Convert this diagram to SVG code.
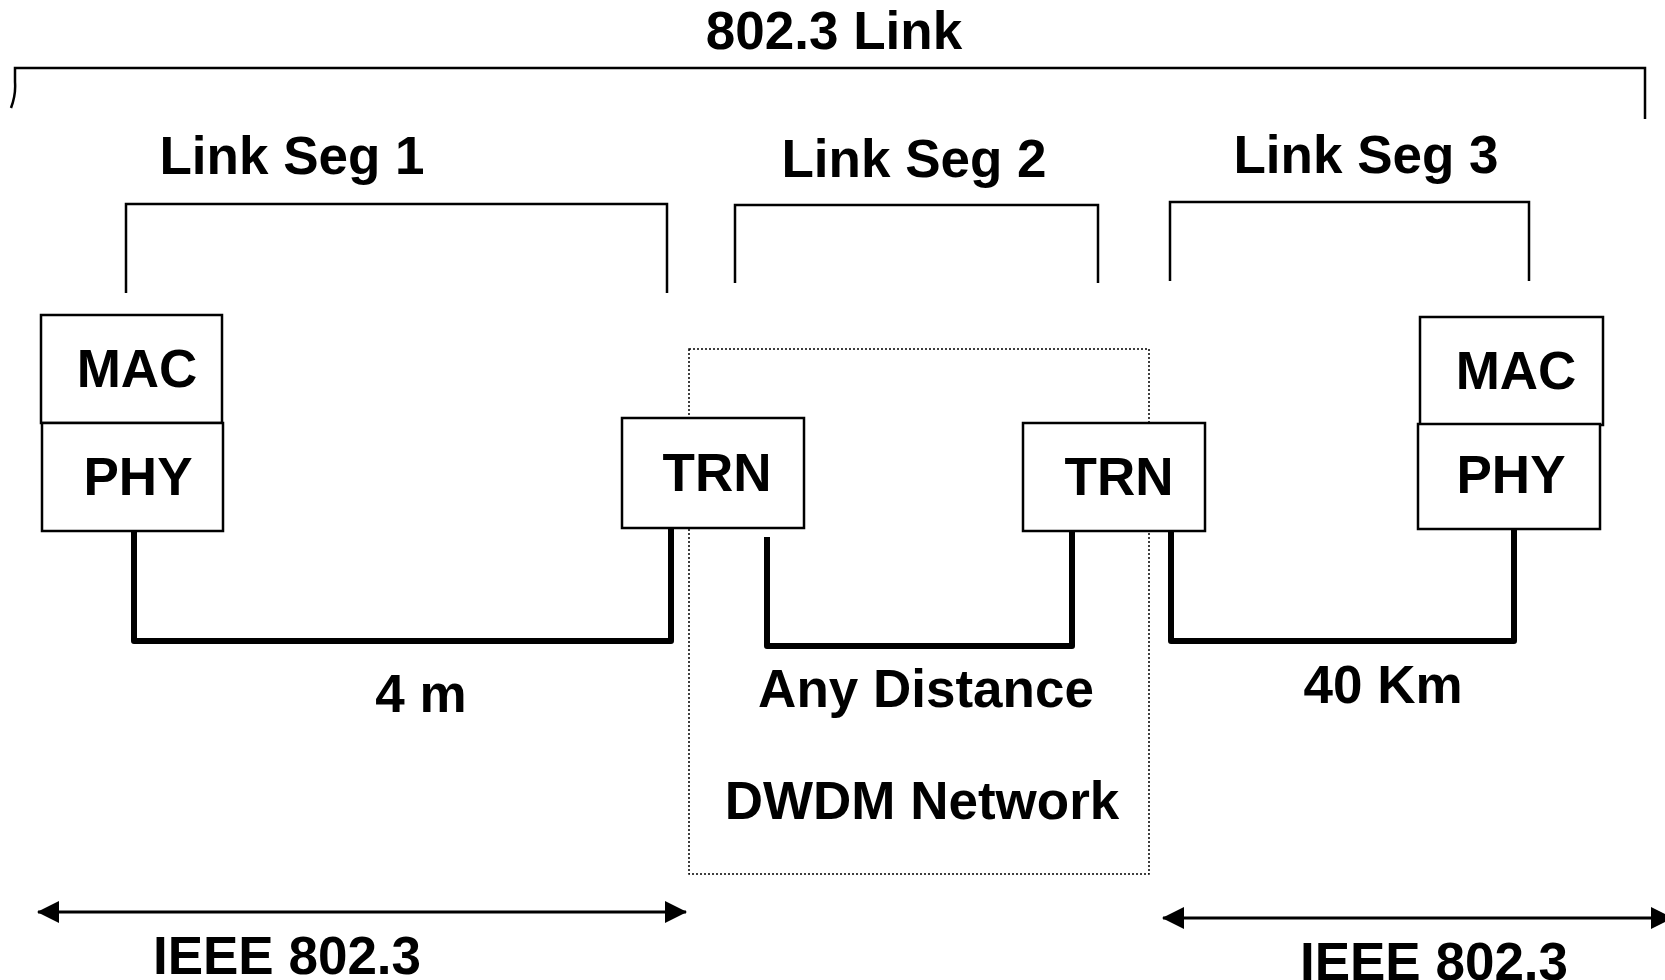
<svg xmlns="http://www.w3.org/2000/svg" width="1665" height="980" viewBox="0 0 1665 980">
<style>
.t{font-family:"Liberation Sans",Arial,sans-serif;font-weight:bold;font-size:53px;fill:#000;text-anchor:middle}
.br{fill:none;stroke:#000;stroke-width:2.5}
.box{fill:#fff;stroke:#000;stroke-width:2.5}
.wire{fill:none;stroke:#000;stroke-width:6;stroke-linejoin:round}
.dim{fill:none;stroke:#000;stroke-width:3}
</style>
<defs>
<marker id="ah" viewBox="0 0 22 22" refX="21" refY="11" markerUnits="userSpaceOnUse" markerWidth="22" markerHeight="22" orient="auto-start-reverse">
<path d="M0,0 L22,11 L0,22 Z" fill="#000"/>
</marker>
</defs>
<rect width="1665" height="980" fill="#fff"/>
<g id="brackets">
<path class="br" d="M11,108 Q16,95 15,82 L15,68 L1645,68 L1645,119"/>
<path class="br" d="M126,293 L126,204 L667,204 L667,293"/>
<path class="br" d="M735,283 L735,205 L1098,205 L1098,283"/>
<path class="br" d="M1170,281 L1170,202 L1529,202 L1529,281"/>
</g>
<g id="labels">
<text class="t" x="834" y="49">802.3 Link</text>
<text class="t" x="292" y="174">Link Seg 1</text>
<text class="t" x="914" y="177">Link Seg 2</text>
<text class="t" x="1366" y="173">Link Seg 3</text>
<text class="t" x="421" y="712">4 m</text>
<text class="t" x="926" y="707">Any Distance</text>
<text class="t" x="922" y="819">DWDM Network</text>
<text class="t" x="1383" y="703">40 Km</text>
<text class="t" x="287" y="974">IEEE 802.3</text>
<text class="t" x="1434" y="980">IEEE 802.3</text>
</g>
<g id="dwdm-network">
<rect x="689" y="349" width="460" height="525" fill="none" stroke="#000" stroke-width="1.5" stroke-dasharray="2,2"/>
</g>
<g id="connectors">
<path class="wire" d="M134,531 L134,641 L671,641 L671,528"/>
<path class="wire" d="M767,537 L767,646 L1072,646 L1072,530"/>
<path class="wire" d="M1171,531 L1171,641 L1514,641 L1514,527"/>
<line class="dim" x1="38" y1="912" x2="686" y2="912" marker-start="url(#ah)" marker-end="url(#ah)"/>
<line class="dim" x1="1163" y1="918" x2="1672" y2="918" marker-start="url(#ah)" marker-end="url(#ah)"/>
</g>
<g id="left-mac">
<rect class="box" x="41" y="315" width="181" height="108"/>
<text class="t" x="137" y="387">MAC</text>
</g>
<g id="left-phy">
<rect class="box" x="42" y="423" width="181" height="108"/>
<text class="t" x="138" y="495">PHY</text>
</g>
<g id="trn-1">
<rect class="box" x="622" y="418" width="182" height="110"/>
<text class="t" x="717" y="491">TRN</text>
</g>
<g id="trn-2">
<rect class="box" x="1023" y="423" width="182" height="108"/>
<text class="t" x="1119" y="495">TRN</text>
</g>
<g id="right-mac">
<rect class="box" x="1420" y="317" width="183" height="108"/>
<text class="t" x="1516" y="389">MAC</text>
</g>
<g id="right-phy">
<rect class="box" x="1418" y="424" width="182" height="105"/>
<text class="t" x="1511" y="493">PHY</text>
</g>
</svg>
